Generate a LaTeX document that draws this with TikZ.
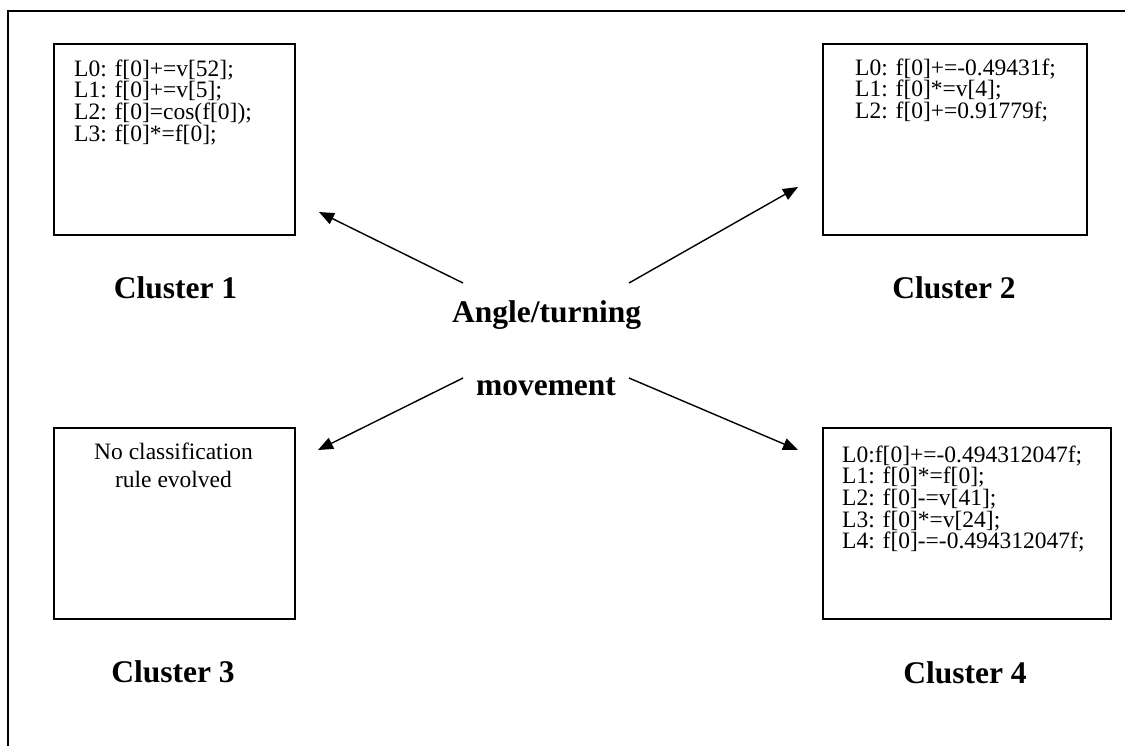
\documentclass[tikz,border=0pt]{standalone}
\usepackage{fontspec}
\setmainfont{Liberation Serif}
\usetikzlibrary{arrows.meta}
\begin{document}
\begin{tikzpicture}[x=1pt,y=-1pt,
  panel/.style={draw, line width=1.8pt, anchor=north west, inner sep=0pt, minimum height=191pt},
  codeline/.style={anchor=base west, inner sep=0pt, font=\fontsize{23.5}{21.7}\selectfont},
  notetext/.style={anchor=base, inner sep=0pt, font=\fontsize{23.5}{27}\selectfont},
  caption/.style={anchor=base, inner sep=0pt, font=\fontsize{31.5}{36}\selectfont\bfseries},
  link/.style={line width=1.4pt, -{Triangle[length=15pt,width=12pt]}}]

% page area and the outer frame, which runs off the bottom and right edges
\useasboundingbox (0,0) rectangle (1125,745);
\begin{scope}
  \clip (0,0) rectangle (1125,745);
  \draw[line width=1.2pt] (8,11) rectangle (1160,790);
\end{scope}

% cluster panels
\node[panel, minimum width=241pt] (box1) at (53,43) {};
\node[panel, minimum width=264pt] (box2) at (822,43) {};
\node[panel, minimum width=241pt] (box3) at (53,427) {};
\node[panel, minimum width=288pt] (box4) at (822,427) {};

% rules of cluster 1
\foreach \txt [count=\i from 0] in {{L0: f[0]+=v[52];},{L1: f[0]+=v[5];},{L2: f[0]=cos(f[0]);},{L3: f[0]*=f[0];}}
  \node[codeline] (one\i) at (74,{76+21.7*\i}) {\txt};

% rules of cluster 2
\foreach \txt [count=\i from 0] in {{L0: f[0]+=-0.49431f;},{L1: f[0]*=v[4];},{L2: f[0]+=0.91779f;}}
  \node[codeline] (two\i) at (855,{75+21.7*\i}) {\txt};

% cluster 3 has no rule
\node[notetext] (none1) at (173.5,459) {No classification};
\node[notetext] (none2) at (173.5,487) {rule evolved};

% rules of cluster 4
\foreach \txt [count=\i from 0] in {{L0:f[0]+=-0.494312047f;},{L1: f[0]*=f[0];},{L2: f[0]-=v[41];},{L3: f[0]*=v[24];},{L4: f[0]-=-0.494312047f;}}
  \node[codeline] (four\i) at (842,{462+21.7*\i}) {\txt};

% captions
\node[caption] (cap1) at (175.5,298) {Cluster 1};
\node[caption] (cap2) at (954,298) {Cluster 2};
\node[caption] (cap3) at (173,682) {Cluster 3};
\node[caption] (cap4) at (965,683) {Cluster 4};

% central label
\node[caption] (angle) at (546.7,322) {Angle/turning};
\node[caption] (move) at (546,395) {movement};

% arrow ends
\coordinate (t1) at (463,283);
\coordinate (t2) at (629,283);
\coordinate (t3) at (463,378);
\coordinate (t4) at (629,378);
\coordinate (h1) at (319,212);
\coordinate (h2) at (798,187);
\coordinate (h3) at (318,450);
\coordinate (h4) at (798,450);

\draw[link] (t1) -- (h1);
\draw[link] (t2) -- (h2);
\draw[link] (t3) -- (h3);
\draw[link] (t4) -- (h4);
\end{tikzpicture}
\end{document}
